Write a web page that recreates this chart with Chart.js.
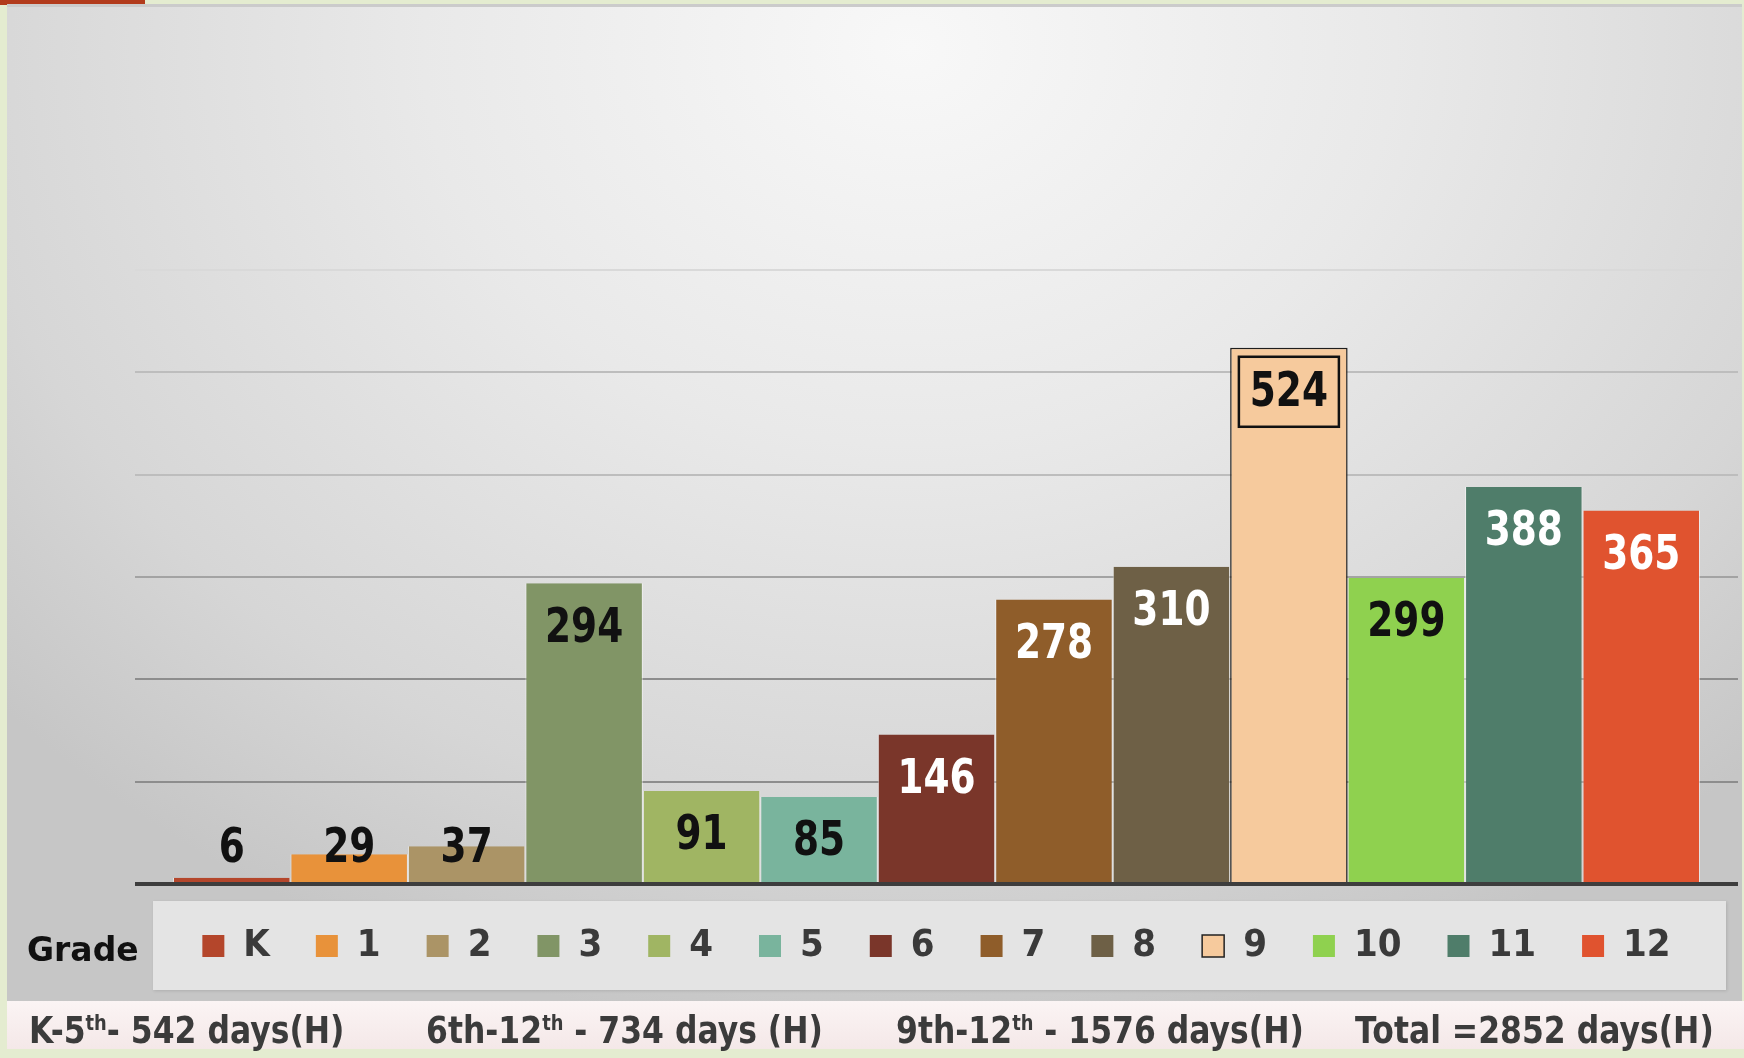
<!DOCTYPE html>
<html lang="en">
<head>
<meta charset="UTF-8">
<title>Days by grade</title>
<script src="https://cdn.jsdelivr.net/npm/chart.js"></script>
<style>
	body, html {
		margin: 0;
		padding: 0;
		width: 1744px;
		height: 1058px;
		overflow: hidden;
		background: #e4ecd0;
		font-family: "DejaVu Sans", sans-serif;
	}

	/* red strip top left */
	.topbar {
		position: absolute; left: 0; top: 0;
		width: 145px; height: 5px;
		background: #b23b1c;
	}

	/* grey slide panel */
	.panel {
		position: absolute; left: 7px; top: 4px;
		width: 1735px; height: 997px;
		background: radial-gradient(ellipse 70% 100% at 52% 4%, #f8f8f8 0%, #e9e9e9 40%, #d6d6d6 78%, #c6c6c6 100%);
		border-top: 3px solid #cbcbcb;
		box-sizing: border-box;
	}

	.legend-bg {
		position: absolute; left: 153px; top: 901px;
		width: 1573px; height: 89px;
		background: #e4e4e4;
		box-shadow: 1px 1px 3px rgba(0, 0, 0, 0.12);
	}

	canvas { position: absolute; left: 0; top: 0; }

	.grade {
		position: absolute; left: 27px; top: 928px;
		font-size: 33px; font-weight: bold; color: #111;
		line-height: 44px;
	}

	.footer {
		position: absolute; left: 7px; top: 1001px;
		width: 1737px; height: 48px;
		background: linear-gradient(#fbf4f4, #f4e8e8);
	}

	.footer span {
		position: absolute; top: 0;
		font-size: 37px; font-weight: bold; color: #3b3b3b;
		line-height: 60px;
		white-space: nowrap;
		transform: scaleX(0.85);
		transform-origin: left center;
	}

	.footer sup { font-size: 21px; vertical-align: 13px; line-height: 0; }
</style>
</head>
<body>
	<div class="topbar"></div>
	<div class="panel"></div>
	<div class="legend-bg"></div>
	<canvas id="gradeChart" width="1744" height="1058"></canvas>
	<div class="grade">Grade</div>

	<div class="footer">
		<span style="left: 22px;">K-5<sup>th</sup>- 542 days(H)</span>
		<span style="left: 419px;">6th-12<sup>th</sup> - 734 days (H)</span>
		<span style="left: 889px;">9th-12<sup>th</sup> - 1576 days(H)</span>
		<span style="left: 1348px;">Total =2852 days(H)</span>
	</div>

<script>
	// data
	const grades = ['K', '1', '2', '3', '4', '5', '6', '7', '8', '9', '10', '11', '12'];
	const days = [6, 29, 37, 294, 91, 85, 146, 278, 310, 524, 299, 388, 365];
	const categories = ['Grade'];
	const yTicks = [0, 100, 200, 300, 400, 500, 600];

	// styles
	const barColors = ['#b4462b', '#e8923a', '#ab9466', '#819566', '#a0b563', '#79b49d', '#7a362a',
		'#8f5d2a', '#6e6046', '#f6ca9d', '#8fd14f', '#4f7d6a', '#e0532f'];
	const labelColors = ['#111', '#111', '#111', '#111', '#111', '#111', '#fff',
		'#fff', '#fff', '#111', '#111', '#fff', '#fff'];
	const boxedIndex = 9;

	function gridColor(v) {
		if (v === 0) return '#3d3d3d';
		if (v <= 200) return '#8d8d8d';
		if (v <= 300) return '#a3a3a3';
		if (v <= 500) return '#bdbdbd';
		return '#d9d9d9';
	}

	// value labels (inside end, Excel style), squeezed like the slide font
	const barLabels = {
		id: 'barLabels',
		afterDatasetsDraw(chart) {
			const ctx = chart.ctx;
			const base = chart.scales.y.getPixelForValue(0);
			chart.data.datasets.forEach((ds, i) => {
				const bar = chart.getDatasetMeta(i).data[0];
				const y = Math.min(bar.y + 44, base - 36);
				const text = String(ds.data[0]);
				ctx.save();
				if (i === boxedIndex) {
					ctx.fillStyle = barColors[i];
					ctx.fillRect(bar.x - 50, y - 35, 100, 70);
					ctx.lineWidth = 2.5;
					ctx.strokeStyle = '#111';
					ctx.strokeRect(bar.x - 50, y - 35, 100, 70);
				}
				ctx.translate(bar.x, y);
				ctx.scale(0.78, 1);
				ctx.font = 'bold 48px "DejaVu Sans"';
				ctx.textAlign = 'center';
				ctx.textBaseline = 'middle';
				ctx.fillStyle = labelColors[i];
				ctx.fillText(text, 0, 2);
				ctx.restore();
			});
		}
	};

	// nudge the legend row up a little
	const legendShift = {
		id: 'legendShift',
		afterLayout(chart) {
			chart.legend.top -= 3;
			chart.legend.bottom -= 3;
		}
	};

	const datasets = grades.map((g, i) => ({
		label: g,
		data: [days[i]],
		backgroundColor: barColors[i],
		borderColor: i === boxedIndex ? '#1e1e1e' : 'rgba(255, 255, 255, 0.55)',
		borderWidth: i === boxedIndex ? 1.5 : {left: 1, right: 1, top: 0, bottom: 0},
		categoryPercentage: 0.9526,
		barPercentage: 1
	}));

	const config = {
		type: 'bar',
		data: {
			labels: categories,
			datasets: datasets
		},
		options: {
			responsive: false,
			animation: false,
			layout: {
				padding: {left: 135, right: 6, top: 270, bottom: 80}
			},
			scales: {
				x: {
					display: false
				},
				y: {
					min: 0,
					max: 600,
					afterFit: scale => { scale.width = 0; },
					afterBuildTicks: scale => { scale.ticks = yTicks.map(v => ({value: v})); },
					ticks: {display: false},
					border: {display: false},
					grid: {
						drawTicks: false,
						color: c => gridColor(c.tick.value),
						lineWidth: c => (c.tick.value === 0 ? 4 : 2)
					}
				}
			},
			plugins: {
				tooltip: {enabled: false},
				legend: {
					position: 'bottom',
					labels: {
						boxWidth: 22,
						boxHeight: 22,
						padding: 46,
						color: '#3a3a3a',
						font: {family: '"DejaVu Sans Condensed", "DejaVu Sans"', size: 38, weight: 'bold'},
						generateLabels(chart) {
							const items = Chart.defaults.plugins.legend.labels.generateLabels(chart);
							items.forEach((it, i) => {
								if (i === boxedIndex) {
									it.strokeStyle = '#222';
									it.lineWidth = 1.5;
								} else {
									it.lineWidth = 0;
								}
							});
							return items;
						}
					}
				}
			}
		},
		plugins: [barLabels, legendShift]
	};

	const ctx = document.getElementById('gradeChart').getContext('2d');
	new Chart(ctx, config);
</script>
</body>
</html>
